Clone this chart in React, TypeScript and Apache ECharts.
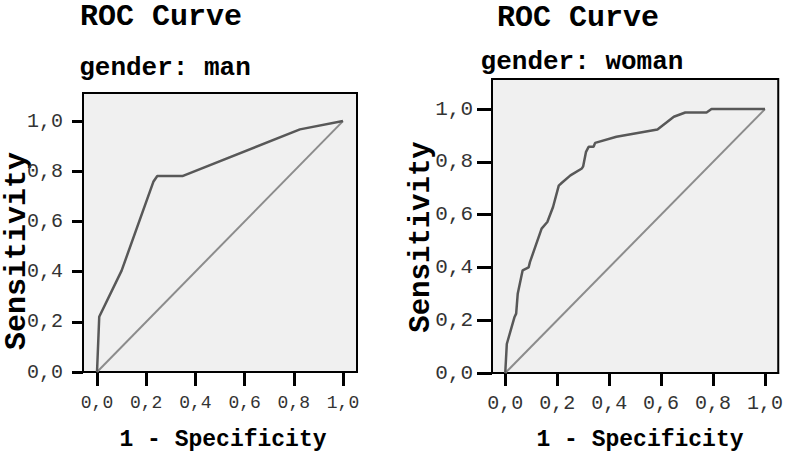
import React, { useEffect, useRef } from "react";
import * as echarts from "echarts";

const tickValues = [0, 0.2, 0.4, 0.6, 0.8, 1.0];
const tickLabels = ["0,0", "0,2", "0,4", "0,6", "0,8", "1,0"];

const manFpr = [0, 0.009, 0.1, 0.229, 0.245, 0.347, 0.825, 1.0];
const manTpr = [0, 0.22, 0.404, 0.758, 0.781, 0.781, 0.967, 1.0];

const womanFpr = [0, 0.006, 0.035, 0.042, 0.048, 0.067, 0.09, 0.095, 0.14, 0.162, 0.184, 0.206, 0.217, 0.251, 0.295, 0.3, 0.311, 0.321, 0.34, 0.346, 0.428, 0.586, 0.649, 0.693, 0.775, 0.794, 1.0];
const womanTpr = [0, 0.11, 0.21, 0.225, 0.3, 0.389, 0.4, 0.42, 0.547, 0.572, 0.629, 0.71, 0.72, 0.749, 0.775, 0.783, 0.838, 0.857, 0.857, 0.872, 0.895, 0.923, 0.971, 0.987, 0.987, 1.0, 1.0];

const diagX = [0, 1];
const diagY = [0, 1];

const FONT = "'Liberation Mono', 'Courier New', monospace";

const zip = (a: number[], b: number[]) => a.map((v, i) => [v, b[i]]);
const fmt = (v: number) => {
  const i = tickValues.findIndex((t) => Math.abs(t - v) < 1e-6);
  return i >= 0 ? tickLabels[i] : "";
};

function xAxisFor(gridIndex: number, pad: number, tickLen: number, fontSize: number, margin: number) {
  return {
    gridIndex,
    type: "value",
    min: -pad,
    max: 1 + pad,
    axisLine: { show: true, onZero: false, lineStyle: { color: "#000", width: 2 } },
    axisTick: { show: true, customValues: tickValues, length: tickLen, lineStyle: { color: "#000", width: 3 } },
    axisLabel: { show: true, customValues: tickValues, formatter: fmt, margin, fontFamily: FONT, fontSize, color: "#333" },
    splitLine: { show: false },
  };
}

function yAxisFor(gridIndex: number, max: number, tickLen: number, fontSize: number, margin: number) {
  return {
    gridIndex,
    type: "value",
    min: 0,
    max,
    axisLine: { show: true, onZero: false, lineStyle: { color: "#000", width: 2 } },
    axisTick: { show: true, customValues: tickValues, length: tickLen, lineStyle: { color: "#000", width: 3 } },
    axisLabel: { show: true, customValues: tickValues, formatter: fmt, margin, fontFamily: FONT, fontSize, color: "#333" },
    splitLine: { show: false },
  };
}

function txt(text: string, x: number, y: number, size: number, lineHeight: number, rotation = 0) {
  return {
    type: "text",
    x,
    y,
    rotation,
    style: {
      text,
      font: `bold ${size}px ${FONT}`,
      lineHeight,
      fill: "#000",
      align: "center",
      verticalAlign: "middle",
      textAlign: "center",
      textVerticalAlign: "middle",
    },
  };
}

export default function App() {
  const ref = useRef<HTMLDivElement>(null);
  useEffect(() => {
    if (!ref.current) return;
    const chart = echarts.init(ref.current, undefined, { renderer: "svg" });
    chart.setOption({
      animation: false,
      backgroundColor: "#fff",
      grid: [
        { left: 83, top: 93, width: 274, height: 279, show: true, backgroundColor: "#f0f0f0", borderColor: "#000", borderWidth: 2 },
        { left: 492, top: 79, width: 291, height: 294, show: true, backgroundColor: "#f0f0f0", borderColor: "#000", borderWidth: 2 },
      ],
      xAxis: [xAxisFor(0, 0.057, 14, 18, 22), xAxisFor(1, 0.051, 13, 20, 20)],
      yAxis: [yAxisFor(0, 1.112, 11, 20, 20), yAxisFor(1, 1.114, 15, 21, 19)],
      series: [
        { type: "line", xAxisIndex: 0, yAxisIndex: 0, data: zip(diagX, diagY), showSymbol: false, lineStyle: { color: "#8c8c8c", width: 2 }, itemStyle: { color: "#8c8c8c" } },
        { type: "line", xAxisIndex: 0, yAxisIndex: 0, data: zip(manFpr, manTpr), showSymbol: false, lineStyle: { color: "#585858", width: 2.5 }, itemStyle: { color: "#585858" } },
        { type: "line", xAxisIndex: 1, yAxisIndex: 1, data: zip(diagX, diagY), showSymbol: false, lineStyle: { color: "#8c8c8c", width: 2 }, itemStyle: { color: "#8c8c8c" } },
        { type: "line", xAxisIndex: 1, yAxisIndex: 1, data: zip(womanFpr, womanTpr), showSymbol: false, lineStyle: { color: "#585858", width: 2.5 }, itemStyle: { color: "#585858" } },
      ],
      graphic: [
        txt("ROC Curve", 161, 17, 30, 24),
        txt("gender: man", 165, 68, 26, 26),
        txt("Sensitivity", 17, 251, 30, 24, Math.PI / 2),
        txt("1 - Specificity", 223, 440, 23, 20),
        txt("ROC Curve", 578, 18, 30, 26),
        txt("gender: woman", 582, 62, 26, 26),
        txt("Sensitivity", 421, 237, 29, 26, Math.PI / 2),
        txt("1 - Specificity", 640, 440, 23, 20),
      ],
    });
    return () => chart.dispose();
  }, []);
  return <div ref={ref} style={{ position: "absolute", left: 0, top: 0, width: 786, height: 452 }} />;
}
